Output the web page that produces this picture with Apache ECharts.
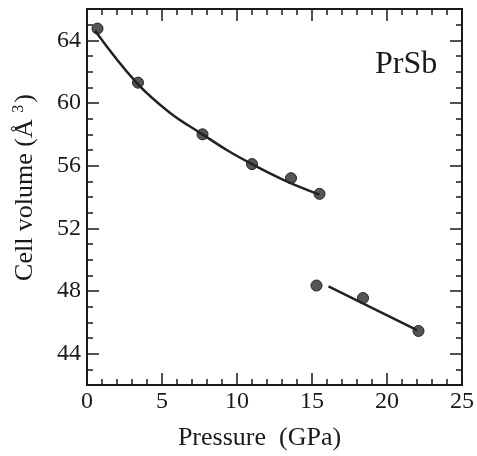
<!DOCTYPE html>
<html>
<head>
<meta charset="utf-8">
<script src="https://cdn.jsdelivr.net/npm/echarts@6/dist/echarts.min.js"></script>
<style>
  html, body { margin: 0; padding: 0; background: #fff; }
  #chart { width: 477px; height: 456px; }
</style>
</head>
<body>
<div id="chart"></div>
<script>
// measured points (pressure GPa, cell volume A^3)
var lowPressure = [[0.7, 64.75], [3.4, 61.3], [7.7, 58.0], [11.0, 56.1], [13.6, 55.2], [15.5, 54.2]]
var highPressure = [[15.3, 48.35], [18.4, 47.55], [22.1, 45.45]]
// fitted curves
var lowFit = [[0.55, 64.6], [3.3, 61.3], [5.5, 59.4], [7.7, 58.0], [9.4, 56.95], [11.0, 56.1], [13.2, 55.05], [15.5, 54.15]]
var highFit = [[16.1, 48.3], [22.0, 45.5]]
// axis ticks
var xMajorTicks = [0, 5, 10, 15, 20, 25]
var yMajorTicks = [44, 48, 52, 56, 60, 64]

var chart = echarts.init(document.getElementById('chart'))

var font = 'Liberation Serif'
var ink = '#1a1a1a'

function xAxisOf(pos, labels) {
  return {
    type: 'value',
    position: pos,
    min: 0,
    max: 25,
    interval: 5,
    axisLine: { show: true, onZero: false, lineStyle: { color: ink, width: 2 } },
    axisTick: { show: true, inside: true, length: 12, lineStyle: { color: ink, width: 1.5 } },
    minorTick: { show: true, splitNumber: 5, length: 6, lineStyle: { color: ink, width: 1.5 } },
    axisLabel: {
      show: labels,
      customValues: xMajorTicks,
      margin: 5,
      color: ink,
      fontFamily: font,
      fontSize: 24
    },
    splitLine: { show: false }
  }
}

function yAxisOf(pos, major, labels) {
  return {
    type: 'value',
    position: pos,
    min: 42,
    max: 66,
    interval: 1,
    axisLine: { show: true, onZero: false, lineStyle: { color: ink, width: 2 } },
    axisTick: {
      show: true,
      inside: true,
      length: major ? 12 : 6,
      customValues: major ? yMajorTicks : undefined,
      lineStyle: { color: ink, width: 1.5 }
    },
    axisLabel: {
      show: labels,
      customValues: yMajorTicks,
      margin: 6,
      color: ink,
      fontFamily: font,
      fontSize: 24
    },
    splitLine: { show: false }
  }
}

var xBottom = xAxisOf('bottom', true)
xBottom.name = 'Pressure  (GPa)'
xBottom.nameLocation = 'middle'
xBottom.nameGap = 40
xBottom.nameTextStyle = { color: ink, fontFamily: font, fontSize: 26, padding: [0, 30, 0, 0] }

var yLeft = yAxisOf('left', true, true)
yLeft.name = 'Cell volume (Å {sup|3})'
yLeft.nameLocation = 'middle'
yLeft.nameGap = 48
yLeft.nameTextStyle = {
  color: ink,
  fontFamily: font,
  fontSize: 26,
  padding: [0, 0, 0, 19],
  rich: {
    sup: { fontFamily: font, fontSize: 16, color: ink, padding: [0, 2, 12, 0] }
  }
}

chart.setOption({
  backgroundColor: '#fff',
  animation: false,
  title: {
    text: 'PrSb',
    left: 370,
    top: 44,
    textStyle: { color: ink, fontFamily: font, fontSize: 32, fontWeight: 'normal' }
  },
  grid: { left: 87, right: 10, top: 9, bottom: 70 },
  xAxis: [xBottom, xAxisOf('top', false)],
  yAxis: [
    yLeft,
    yAxisOf('left', false, false),
    yAxisOf('right', true, false),
    yAxisOf('right', false, false)
  ],
  series: [
    {
      name: 'fit low',
      type: 'line',
      data: lowFit,
      smooth: 0.4,
      showSymbol: false,
      lineStyle: { color: '#222', width: 2.5 },
      silent: true
    },
    {
      name: 'fit high',
      type: 'line',
      data: highFit,
      showSymbol: false,
      lineStyle: { color: '#222', width: 2.5 },
      silent: true
    },
    {
      name: 'low',
      type: 'scatter',
      data: lowPressure,
      symbolSize: 11,
      itemStyle: { color: '#555', borderColor: '#222', borderWidth: 1, opacity: 1 }
    },
    {
      name: 'high',
      type: 'scatter',
      data: highPressure,
      symbolSize: 11,
      itemStyle: { color: '#555', borderColor: '#222', borderWidth: 1, opacity: 1 }
    }
  ]
})
</script>
</body>
</html>
